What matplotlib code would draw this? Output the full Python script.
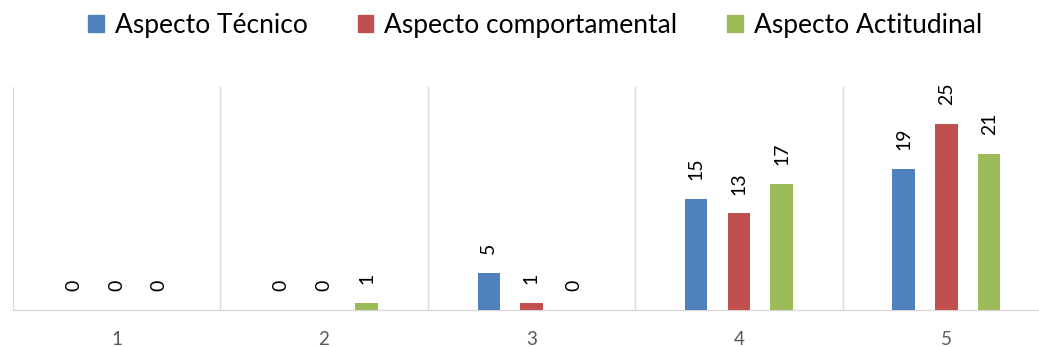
import matplotlib
matplotlib.use("Agg")
import matplotlib.pyplot as plt
import numpy as np
from matplotlib.patches import Patch

plt.rcParams['font.family'] = ['Lato', 'DejaVu Sans']

categories = ["1", "2", "3", "4", "5"]
series_names = ["Aspecto Técnico", "Aspecto comportamental", "Aspecto Actitudinal"]
tecnico = [0, 0, 5, 15, 19]
comportamental = [0, 0, 1, 13, 25]
actitudinal = [0, 1, 0, 17, 21]
colors = ["#4F81BD", "#C0504D", "#9BBB59"]

W, H = 1039, 347
fig = plt.figure(figsize=(W / 100, H / 100), dpi=100)
left_px, top_px, bottom_px = 12.7, 87, 310
cat_w = 207.5
ax = fig.add_axes([left_px / W, (H - bottom_px) / H, (W - left_px) / W, (bottom_px - top_px) / H])

x = np.arange(1, len(categories) + 1)
bw = 0.108
off = 0.206
for i, (vals, c) in enumerate(zip([tecnico, comportamental, actitudinal], colors)):
    xs = x + (i - 1) * off
    bars = ax.bar(xs, vals, width=bw, color=c, zorder=3)
    for xi, v in zip(xs, vals):
        ax.annotate(str(v), (xi, v), xytext=(0, 13.5), textcoords="offset points",
                    rotation=90, ha="center", va="bottom", fontsize=14, color="#000000")

ax.set_ylim(0, 30)
ax.set_xlim(0.5, 0.5 + (W - left_px) / cat_w)
ax.set_yticks([])
ax.set_xticks(x)
ax.set_xticklabels(categories, fontsize=13.5, color="#595959")
ax.tick_params(axis="x", length=0, pad=15)
for xv in np.arange(0.5, 6.0, 1.0):
    ax.axvline(xv, color="#D9D9D9", lw=1.0, zorder=1)
for s in ["top", "right", "left"]:
    ax.spines[s].set_visible(False)
ax.spines["bottom"].set_color("#D9D9D9")
ax.spines["bottom"].set_linewidth(1.0)

handles = [Patch(facecolor=c, edgecolor=c) for c in colors]
fig.legend(handles, series_names, loc="center", bbox_to_anchor=(535 / W, 1 - 25 / H),
           ncol=3, frameon=False, fontsize=19, handlelength=0.6, handleheight=0.6,
           handletextpad=0.4, columnspacing=1.9)

fig.savefig("out.png", dpi=100)
